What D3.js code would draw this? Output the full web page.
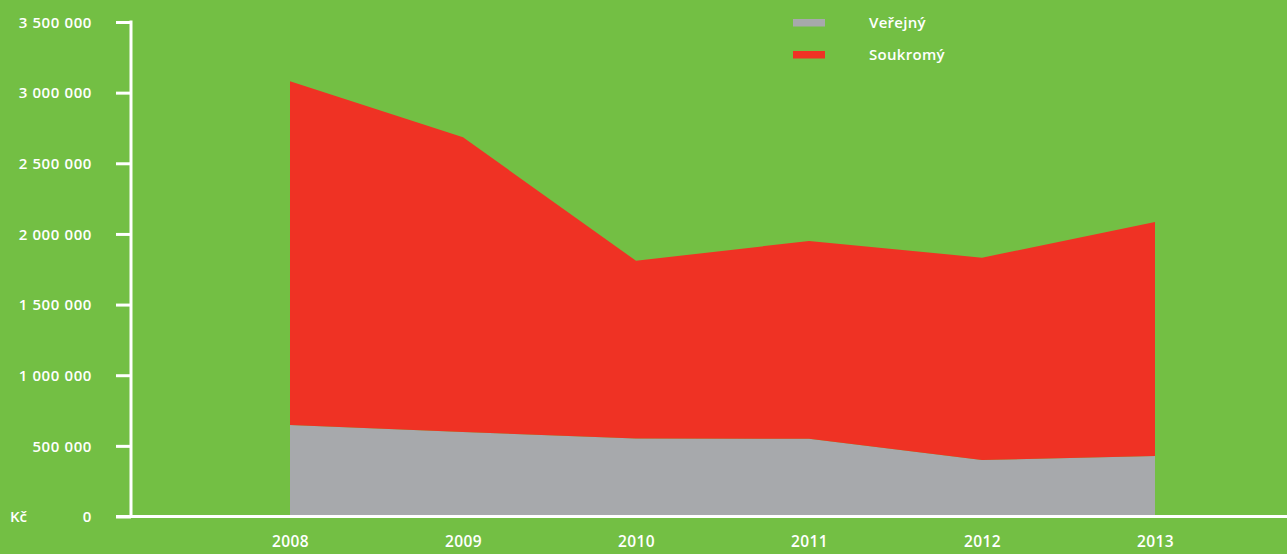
<!DOCTYPE html>
<html><head><meta charset="utf-8">
<script src="https://cdn.jsdelivr.net/npm/d3@7"></script>
<style>body{margin:0;background:#73bf44;}svg{display:block;}</style>
</head><body>
<svg id="c" width="1287" height="554"></svg>
<script>
const years = ["2008","2009","2010","2011","2012","2013"];
const verejny = [648000, 598000, 552000, 550000, 400000, 428000];
const soukromy = [2432000, 2086000, 1258000, 1400000, 1432000, 1656000];
const yTicks = [0, 500000, 1000000, 1500000, 2000000, 2500000, 3000000, 3500000];
const seriesNames = ["Veřejný", "Soukromý"];
const colors = ["#a7a9ac", "#ef3224"];

const svg = d3.select("#c");
const W = 1287, H = 554;
svg.append("rect").attr("width", W).attr("height", H).attr("fill", "#73bf44");

const x = d3.scalePoint().domain(years).range([290, 1155]);
const y = d3.scaleLinear().domain([0, 3500000]).range([516.5, 22]);

const rows = years.map((yr, i) => ({year: yr, v: verejny[i], s: soukromy[i]}));
const stack = d3.stack().keys(["v", "s"])(rows);
const area = d3.area().x(d => x(d.data.year)).y0(d => y(d[0])).y1(d => y(d[1]));
svg.selectAll("path.a").data(stack).join("path").attr("class","a")
  .attr("d", area).attr("fill", (d, i) => colors[i]);

const font = "'Open Sans', sans-serif";
const fw = 600;
// y axis
const yAxis = svg.append("g").attr("transform", "translate(131,0)")
  .call(d3.axisLeft(y).tickValues(yTicks).tickSize(15).tickPadding(24)
    .tickFormat(d => d3.format(",")(d).replace(/,/g, " ")));
yAxis.select(".domain").remove();
yAxis.selectAll("line").attr("stroke", "#fff").attr("stroke-width", 3);
yAxis.selectAll("text").attr("fill", "#fff").attr("font-family", font)
  .attr("font-weight", fw).attr("font-size", 15).attr("dy", "0.35em")
  .attr("letter-spacing", 0.6).style("white-space","pre");
svg.append("line").attr("x1",131).attr("x2",131).attr("y1",20.5).attr("y2",518)
  .attr("stroke","#fff").attr("stroke-width",3);
// x axis
svg.append("line").attr("x1",116).attr("x2",W).attr("y1",516.5).attr("y2",516.5)
  .attr("stroke","#fff").attr("stroke-width",3);
const xAxis = svg.append("g").attr("transform", "translate(0,516.5)")
  .call(d3.axisBottom(x).tickSize(0).tickPadding(24));
xAxis.select(".domain").remove();
xAxis.selectAll("text").attr("fill", "#fff").attr("font-family", font)
  .attr("font-weight", fw).attr("font-size", 15.5).attr("dy", "0.4em")
  .attr("letter-spacing", 0.4);

svg.append("text").attr("x", 10).attr("y", 516.5).attr("dy","0.35em").text("Kč")
  .attr("fill","#fff").attr("font-family", font).attr("font-weight",fw).attr("font-size",15);

// legend
const lg = svg.append("g");
seriesNames.forEach((n, i) => {
  lg.append("rect").attr("x", 793).attr("y", 19 + i*32).attr("width", 32).attr("height", 7.5).attr("fill", colors[i]);
  lg.append("text").attr("x", 869).attr("y", 23 + i*32).attr("dy","0.35em").text(n)
    .attr("fill","#fff").attr("font-family", font).attr("font-weight",fw).attr("font-size",15)
    .attr("letter-spacing", 0.3);
});
</script>
</body></html>
